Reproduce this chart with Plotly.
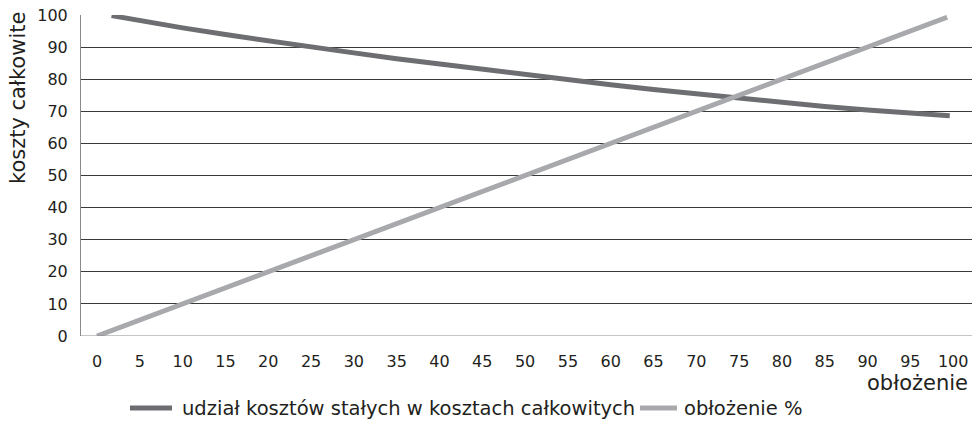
import plotly.graph_objects as go

# data
occupancy_light = [0, 5, 10, 15, 20, 25, 30, 35, 40, 45, 50, 55, 60, 65, 70, 75, 80, 85, 90, 95, 99.3]
occupancy_pct = [0, 5, 10, 15, 20, 25, 30, 35, 40, 45, 50, 55, 60, 65, 70, 75, 80, 85, 90, 95, 99.3]

occupancy_dark = [1.7, 5, 10, 15, 20, 25, 30, 35, 40, 45, 50, 55, 60, 65, 70, 75, 80, 85, 90, 95, 99.6]
fixed_share = [99.8, 98.2, 96.0, 93.9, 91.9, 90.0, 88.2, 86.4, 84.7, 83.0, 81.4, 79.8, 78.3, 76.8,
               75.4, 74.0, 72.7, 71.5, 70.4, 69.4, 68.6]

x_ticks = list(range(0, 101, 5))
y_ticks = list(range(0, 101, 10))

name_dark = "udział kosztów stałych w kosztach całkowitych"
name_light = "obłożenie %"
color_dark = "#6d6e71"
color_light = "#a7a9ac"

FONT = "DejaVu Sans"

# plot area in pixels: x 81..972, y 15..336
def px_x(p):
    return (p - 81) / 891.0

def px_y(p):
    return (336 - p) / 321.0

fig = go.Figure()
fig.add_trace(go.Scatter(x=occupancy_dark, y=fixed_share, mode="lines", name=name_dark,
                         line=dict(color=color_dark, width=5), showlegend=False))
fig.add_trace(go.Scatter(x=occupancy_light, y=occupancy_pct, mode="lines", name=name_light,
                         line=dict(color=color_light, width=5), showlegend=False))

legend_y = px_y(408)

fig.update_layout(
    width=976, height=421,
    margin=dict(l=81, r=4, t=15, b=85),
    paper_bgcolor="white", plot_bgcolor="white",
    font=dict(family=FONT, size=16, color="#231f20"),
    showlegend=False,
    xaxis=dict(range=[-1.87, 102.2], tickmode="array", tickvals=x_ticks,
               ticktext=[str(v) for v in x_ticks], showgrid=False, zeroline=False,
               showline=False, ticks="", ticklabelstandoff=14,
               tickfont=dict(size=16)),
    yaxis=dict(range=[0, 100], tickmode="array", tickvals=y_ticks,
               ticktext=[str(v) for v in y_ticks], showgrid=True, gridcolor="#3a3a3a",
               gridwidth=1, zeroline=False, showline=True, linecolor="#8a8a8a", linewidth=1,
               ticks="", ticklabelstandoff=9, tickfont=dict(size=16)),
    annotations=[
        dict(text="koszty całkowite", xref="paper", yref="paper", x=px_x(18), y=px_y(98),
             xanchor="center", yanchor="middle", textangle=-90, showarrow=False,
             font=dict(size=21, family=FONT)),
        dict(text="obłożenie", xref="paper", yref="paper", x=px_x(970), y=px_y(383),
             xanchor="right", yanchor="middle", showarrow=False,
             font=dict(size=21, family=FONT)),
        dict(text=name_dark, xref="paper", yref="paper", x=px_x(180), y=legend_y,
             xanchor="left", yanchor="middle", showarrow=False,
             font=dict(size=19.5, family=FONT)),
        dict(text=name_light, xref="paper", yref="paper", x=px_x(682), y=legend_y,
             xanchor="left", yanchor="middle", showarrow=False,
             font=dict(size=19.5, family=FONT)),
    ],
    shapes=[
        dict(type="line", xref="paper", yref="y", x0=0, x1=1, y0=0, y1=0,
             line=dict(color="#8a8a8a", width=1)),
        dict(type="line", xref="paper", yref="paper", x0=px_x(130), x1=px_x(172),
             y0=legend_y, y1=legend_y, line=dict(color=color_dark, width=5)),
        dict(type="line", xref="paper", yref="paper", x0=px_x(640), x1=px_x(677),
             y0=legend_y, y1=legend_y, line=dict(color=color_light, width=5)),
    ],
)

fig.write_html("out.html", config={"displayModeBar": False},
               post_script="document.body.style.margin='0';")
